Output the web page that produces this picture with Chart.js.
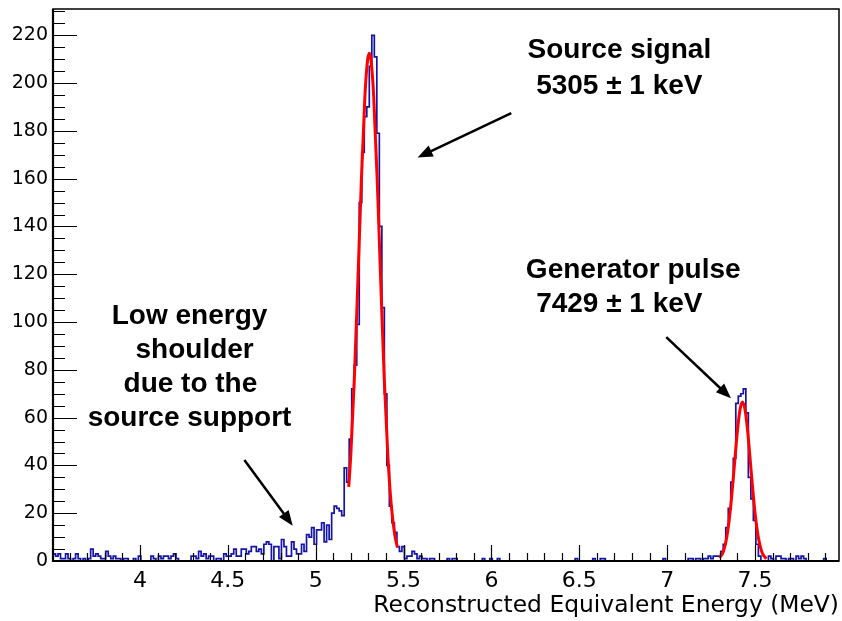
<!DOCTYPE html>
<html>
<head>
<meta charset="utf-8">
<script src="https://cdn.jsdelivr.net/npm/chart.js@4.4.1/dist/chart.umd.min.js"></script>
<style>
  html, body { margin: 0; padding: 0; background: #fff; }
  #wrap { width: 842px; height: 621px; }
</style>
</head>
<body>
<div id="wrap"><canvas id="myChart" width="842" height="621"></canvas></div>
<script>
// histogram : 313 bins of 1/70 MeV, first bin starts at 3.505 MeV
const binStart = 3.505;
const binWidth = 1 / 70;
const counts = [
  3, 2, 3, 1, 1, 3, 1, 0, 1, 3,
  1, 0, 1, 0, 1, 5, 2, 3, 2, 1,
  1, 4, 2, 1, 2, 1, 1, 0, 1, 1,
  0, 0, 1, 0, 2, 0, 0, 0, 0, 2,
  1, 0, 2, 1, 2, 2, 1, 2, 3, 1,
  0, 0, 0, 0, 0, 2, 2, 1, 4, 2,
  3, 1, 2, 2, 0, 1, 1, 0, 3, 2,
  2, 3, 5, 2, 2, 5, 5, 3, 4, 6,
  6, 4, 5, 3, 7, 8, 7, 0, 6, 6,
  1, 9, 6, 2, 2, 8, 5, 3, 3, 7,
  4, 11, 10, 14, 7, 13, 13, 16, 8, 15,
  9, 20, 23, 22, 21, 19, 39, 33, 51, 72,
  82, 99, 150, 171, 186, 190, 207, 220, 211, 179,
  140, 106, 70, 40, 23, 16, 12, 6, 4, 6,
  1, 2, 2, 4, 3, 1, 2, 1, 1, 0,
  1, 1, 0, 0, 0, 0, 0, 1, 0, 1,
  1, 0, 0, 0, 0, 0, 0, 0, 0, 0,
  0, 1, 0, 0, 1, 0, 0, 1, 0, 0,
  0, 0, 0, 0, 0, 0, 0, 0, 0, 0,
  0, 0, 0, 0, 0, 0, 0, 0, 0, 0,
  0, 0, 0, 0, 0, 0, 0, 0, 1, 0,
  0, 0, 0, 0, 0, 1, 0, 0, 1, 1,
  0, 0, 0, 0, 0, 0, 0, 0, 0, 0,
  0, 0, 0, 0, 0, 0, 0, 0, 0, 0,
  0, 0, 0, 1, 0, 0, 0, 0, 0, 0,
  0, 0, 0, 1, 1, 0, 1, 1, 0, 1,
  1, 2, 1, 2, 2, 2, 4, 7, 14, 22,
  33, 43, 66, 69, 70, 72, 62, 35, 26, 17,
  7, 2, 0, 0, 0, 2, 1, 0, 2, 2,
  1, 1, 0, 1, 1, 0, 2, 1, 2, 1,
  0, 0, 0, 0, 0, 0, 0, 1, 0, 0,
  0, 0, 0
];

// fitted curves
const fitSourceX = [5.188, 5.20, 5.22, 5.24, 5.26, 5.28, 5.295, 5.305, 5.315, 5.33, 5.35, 5.37, 5.39, 5.41, 5.43, 5.45, 5.465];
const fitSourceY = [31, 44.8, 76.6, 117, 159.6, 194.5, 209.5, 212.5, 209.5, 194.5, 159.6, 117, 76.6, 44.8, 23.4, 10.9, 5.7];
const fitGenX = [7.298, 7.32, 7.34, 7.36, 7.38, 7.40, 7.415, 7.429, 7.445, 7.46, 7.48, 7.50, 7.52, 7.54, 7.564];
const fitGenY = [1.3, 4.0, 10.2, 21.6, 37.7, 54.5, 63.5, 66.5, 62.6, 53, 36, 20.2, 9.4, 3.6, 0.9];

const xTicks = [4, 4.5, 5, 5.5, 6, 6.5, 7, 7.5];
const yTicks = [0, 20, 40, 60, 80, 100, 120, 140, 160, 180, 200, 220];
const xTitle = 'Reconstructed Equivalent Energy (MeV)';

const notes = [
  {text: 'Source signal', x: 6.728, y: 213.8},
  {text: '5305 \u00b1 1 keV', x: 6.728, y: 198.7},
  {text: 'Generator pulse', x: 6.807, y: 121.8},
  {text: '7429 \u00b1 1 keV', x: 6.728, y: 107.5},
  {text: 'Low energy', x: 4.282, y: 102.5},
  {text: 'shoulder', x: 4.311, y: 88.3},
  {text: 'due to the', x: 4.287, y: 74.1},
  {text: 'source support', x: 4.282, y: 59.8}
];
const arrows = [
  {from: [6.113, 187.4], to: [5.580, 168.9]},
  {from: [6.995, 93.7], to: [7.363, 68.1]},
  {from: [4.594, 42.3], to: [4.869, 14.8]}
];

const FONT = "'Liberation Sans', Arial, Helvetica, sans-serif";
const AXIS_FONT = "'DejaVu Sans', Verdana, sans-serif";

// step outline: one point per bin low edge + closing point at the last edge
const histPoints = counts.map((c, i) => ({x: binStart + i * binWidth, y: c}));
histPoints.push({x: binStart + counts.length * binWidth, y: counts[counts.length - 1]});

const rootFrame = {
  id: 'rootFrame',
  afterDatasetsDraw(chart) {
    const {ctx, chartArea: a, scales: {x, y}} = chart;
    ctx.save();
    ctx.strokeStyle = '#000';
    ctx.lineWidth = 1.2;
    ctx.beginPath();
    for (let i = 36; i <= 79; i++) {
      const px = Math.round(x.getPixelForValue(i / 10)) + 0.5;
      const len = i % 5 === 0 ? 16 : 8;
      ctx.moveTo(px, a.bottom);
      ctx.lineTo(px, a.bottom - len);
    }
    for (let v = 5; v <= 230; v += 5) {
      const py = Math.round(y.getPixelForValue(v)) + 0.5;
      const len = v % 20 === 0 ? 24 : 12;
      ctx.moveTo(a.left, py);
      ctx.lineTo(a.left + len, py);
    }
    ctx.stroke();

    ctx.lineWidth = 1.5;
    ctx.strokeRect(a.left, a.top, a.right - a.left, a.bottom - a.top);
    ctx.lineWidth = 2.2;
    ctx.beginPath();
    ctx.moveTo(a.left, a.top);
    ctx.lineTo(a.left, a.bottom);
    ctx.lineTo(a.right, a.bottom);
    ctx.stroke();

    // arrows
    ctx.fillStyle = '#000';
    arrows.forEach(ar => {
      const x0 = x.getPixelForValue(ar.from[0]), y0 = y.getPixelForValue(ar.from[1]);
      const x1 = x.getPixelForValue(ar.to[0]), y1 = y.getPixelForValue(ar.to[1]);
      const ang = Math.atan2(y1 - y0, x1 - x0);
      const head = 15, half = 6;
      ctx.lineWidth = 2.5;
      ctx.beginPath();
      ctx.moveTo(x0, y0);
      ctx.lineTo(x1 - head * 0.8 * Math.cos(ang), y1 - head * 0.8 * Math.sin(ang));
      ctx.stroke();
      ctx.beginPath();
      ctx.moveTo(x1, y1);
      ctx.lineTo(x1 - head * Math.cos(ang) + half * Math.sin(ang), y1 - head * Math.sin(ang) - half * Math.cos(ang));
      ctx.lineTo(x1 - head * Math.cos(ang) - half * Math.sin(ang), y1 - head * Math.sin(ang) + half * Math.cos(ang));
      ctx.closePath();
      ctx.fill();
    });

    // annotation text
    ctx.font = 'bold 28px ' + FONT;
    ctx.textAlign = 'center';
    ctx.textBaseline = 'middle';
    notes.forEach(n => {
      ctx.fillText(n.text, x.getPixelForValue(n.x), y.getPixelForValue(n.y));
    });
    ctx.restore();
  }
};

new Chart(document.getElementById('myChart'), {
  type: 'line',
  data: {
    datasets: [
      {
        data: fitSourceX.map((v, i) => ({x: v, y: fitSourceY[i]})),
        borderColor: '#ff0000',
        borderWidth: 3,
        pointRadius: 0,
        cubicInterpolationMode: 'monotone',
        fill: false
      },
      {
        data: fitGenX.map((v, i) => ({x: v, y: fitGenY[i]})),
        borderColor: '#ff0000',
        borderWidth: 3,
        pointRadius: 0,
        cubicInterpolationMode: 'monotone',
        fill: false
      },
      {
        data: histPoints,
        borderColor: '#1414a8',
        borderWidth: 1.7,
        pointRadius: 0,
        stepped: 'before',
        fill: false
      }
    ]
  },
  options: {
    responsive: false,
    animation: false,
    devicePixelRatio: 1,
    layout: {padding: {top: 9, right: 3, left: 0, bottom: 0}},
    plugins: {legend: {display: false}, tooltip: {enabled: false}},
    scales: {
      x: {
        type: 'linear',
        min: 3.505,
        max: 7.978,
        grid: {display: false, drawTicks: false},
        border: {display: false},
        afterBuildTicks: s => { s.ticks = xTicks.map(v => ({value: v})); },
        afterFit: s => { s.height = 60; s.paddingLeft = 0; s.paddingRight = 0; },
        ticks: {
          color: '#000',
          padding: 7,
          maxRotation: 0,
          autoSkip: false,
          font: {family: AXIS_FONT, size: 22},
          callback: v => String(v)
        },
        title: {
          display: true,
          text: xTitle,
          align: 'end',
          color: '#000',
          padding: {top: 0, bottom: 1},
          font: {family: AXIS_FONT, size: 23.4}
        }
      },
      y: {
        type: 'linear',
        min: 0,
        max: 231,
        grid: {display: false, drawTicks: false},
        border: {display: false},
        afterBuildTicks: s => { s.ticks = yTicks.map(v => ({value: v})); },
        afterFit: s => { s.width = 53; s.paddingTop = 0; s.paddingBottom = 0; },
        ticks: {
          color: '#000',
          padding: 5,
          autoSkip: false,
          font: {family: AXIS_FONT, size: 19},
          callback: v => String(v)
        }
      }
    }
  },
  plugins: [rootFrame]
});
</script>
</body>
</html>
